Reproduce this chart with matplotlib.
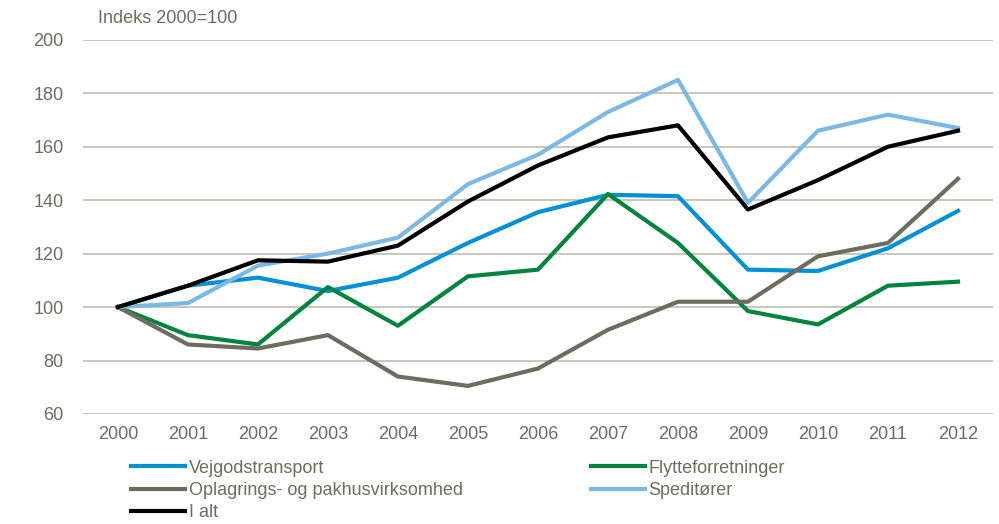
import matplotlib.pyplot as plt
import numpy as np

years = [str(y) for y in range(2000, 2013)]
vejgod = [100, 108, 111, 106, 111, 124, 135.5, 142, 141.5, 114, 113.5, 122, 136]
flytte = [100, 89.5, 86, 107.5, 93, 111.5, 114, 142.3, 124, 98.5, 93.5, 108, 109.5]
oplag = [100, 86, 84.5, 89.5, 74, 70.5, 77, 91.5, 102, 102, 119, 124, 148]
spedit = [100, 101.5, 115.5, 120, 126, 146, 157, 173, 185, 139, 166, 172, 167]
i_alt = [100, 108, 117.5, 117, 123, 139.5, 153, 163.5, 168, 136.5, 147.5, 160, 166]

txt = "#6d6c5e"
plt.rcParams['font.family'] = ['Liberation Sans', 'DejaVu Sans']

fig = plt.figure(figsize=(9.99, 5.24), dpi=100)
ax = fig.add_axes([0.083, 0.21, 0.911, 0.714])

x = np.arange(len(years))
lw = 3
l1, = ax.plot(x, vejgod, color="#0090d6", lw=lw, label="Vejgodstransport")
l2, = ax.plot(x, flytte, color="#00843d", lw=lw, label="Flytteforretninger")
l3, = ax.plot(x, oplag, color="#6d6c5e", lw=lw, label="Oplagrings- og pakhusvirksomhed")
l4, = ax.plot(x, spedit, color="#7cb8e4", lw=lw, label="Speditører")
l5, = ax.plot(x, i_alt, color="black", lw=lw, label="I alt")

ax.set_xlim(-0.5, len(years) - 0.5)
ax.set_ylim(60, 200)
ax.set_yticks(range(60, 201, 20))
ax.set_xticks(x)
ax.set_xticklabels(years)
ax.grid(axis="y", color="#bfbdb0", lw=1.2)
ax.set_axisbelow(True)
for s in ax.spines.values():
    s.set_visible(False)
ax.tick_params(length=0, labelsize=13, colors=txt, pad=14)
ax.tick_params(axis="x", pad=9)

fig.text(0.098, 0.965, "Indeks 2000=100", fontsize=13, color=txt, va="center")

order = [l1, l3, l5, l2, l4]
leg = fig.legend(order, [h.get_label() for h in order],
                 ncol=2, loc="upper left", bbox_to_anchor=(0.131, 0.123),
                 frameon=False, fontsize=13, handlelength=3.0, handletextpad=0.2,
                 labelspacing=0.3, columnspacing=7.1, borderpad=0, borderaxespad=0)
for t in leg.get_texts():
    t.set_color(txt)

plt.savefig("out.png")
